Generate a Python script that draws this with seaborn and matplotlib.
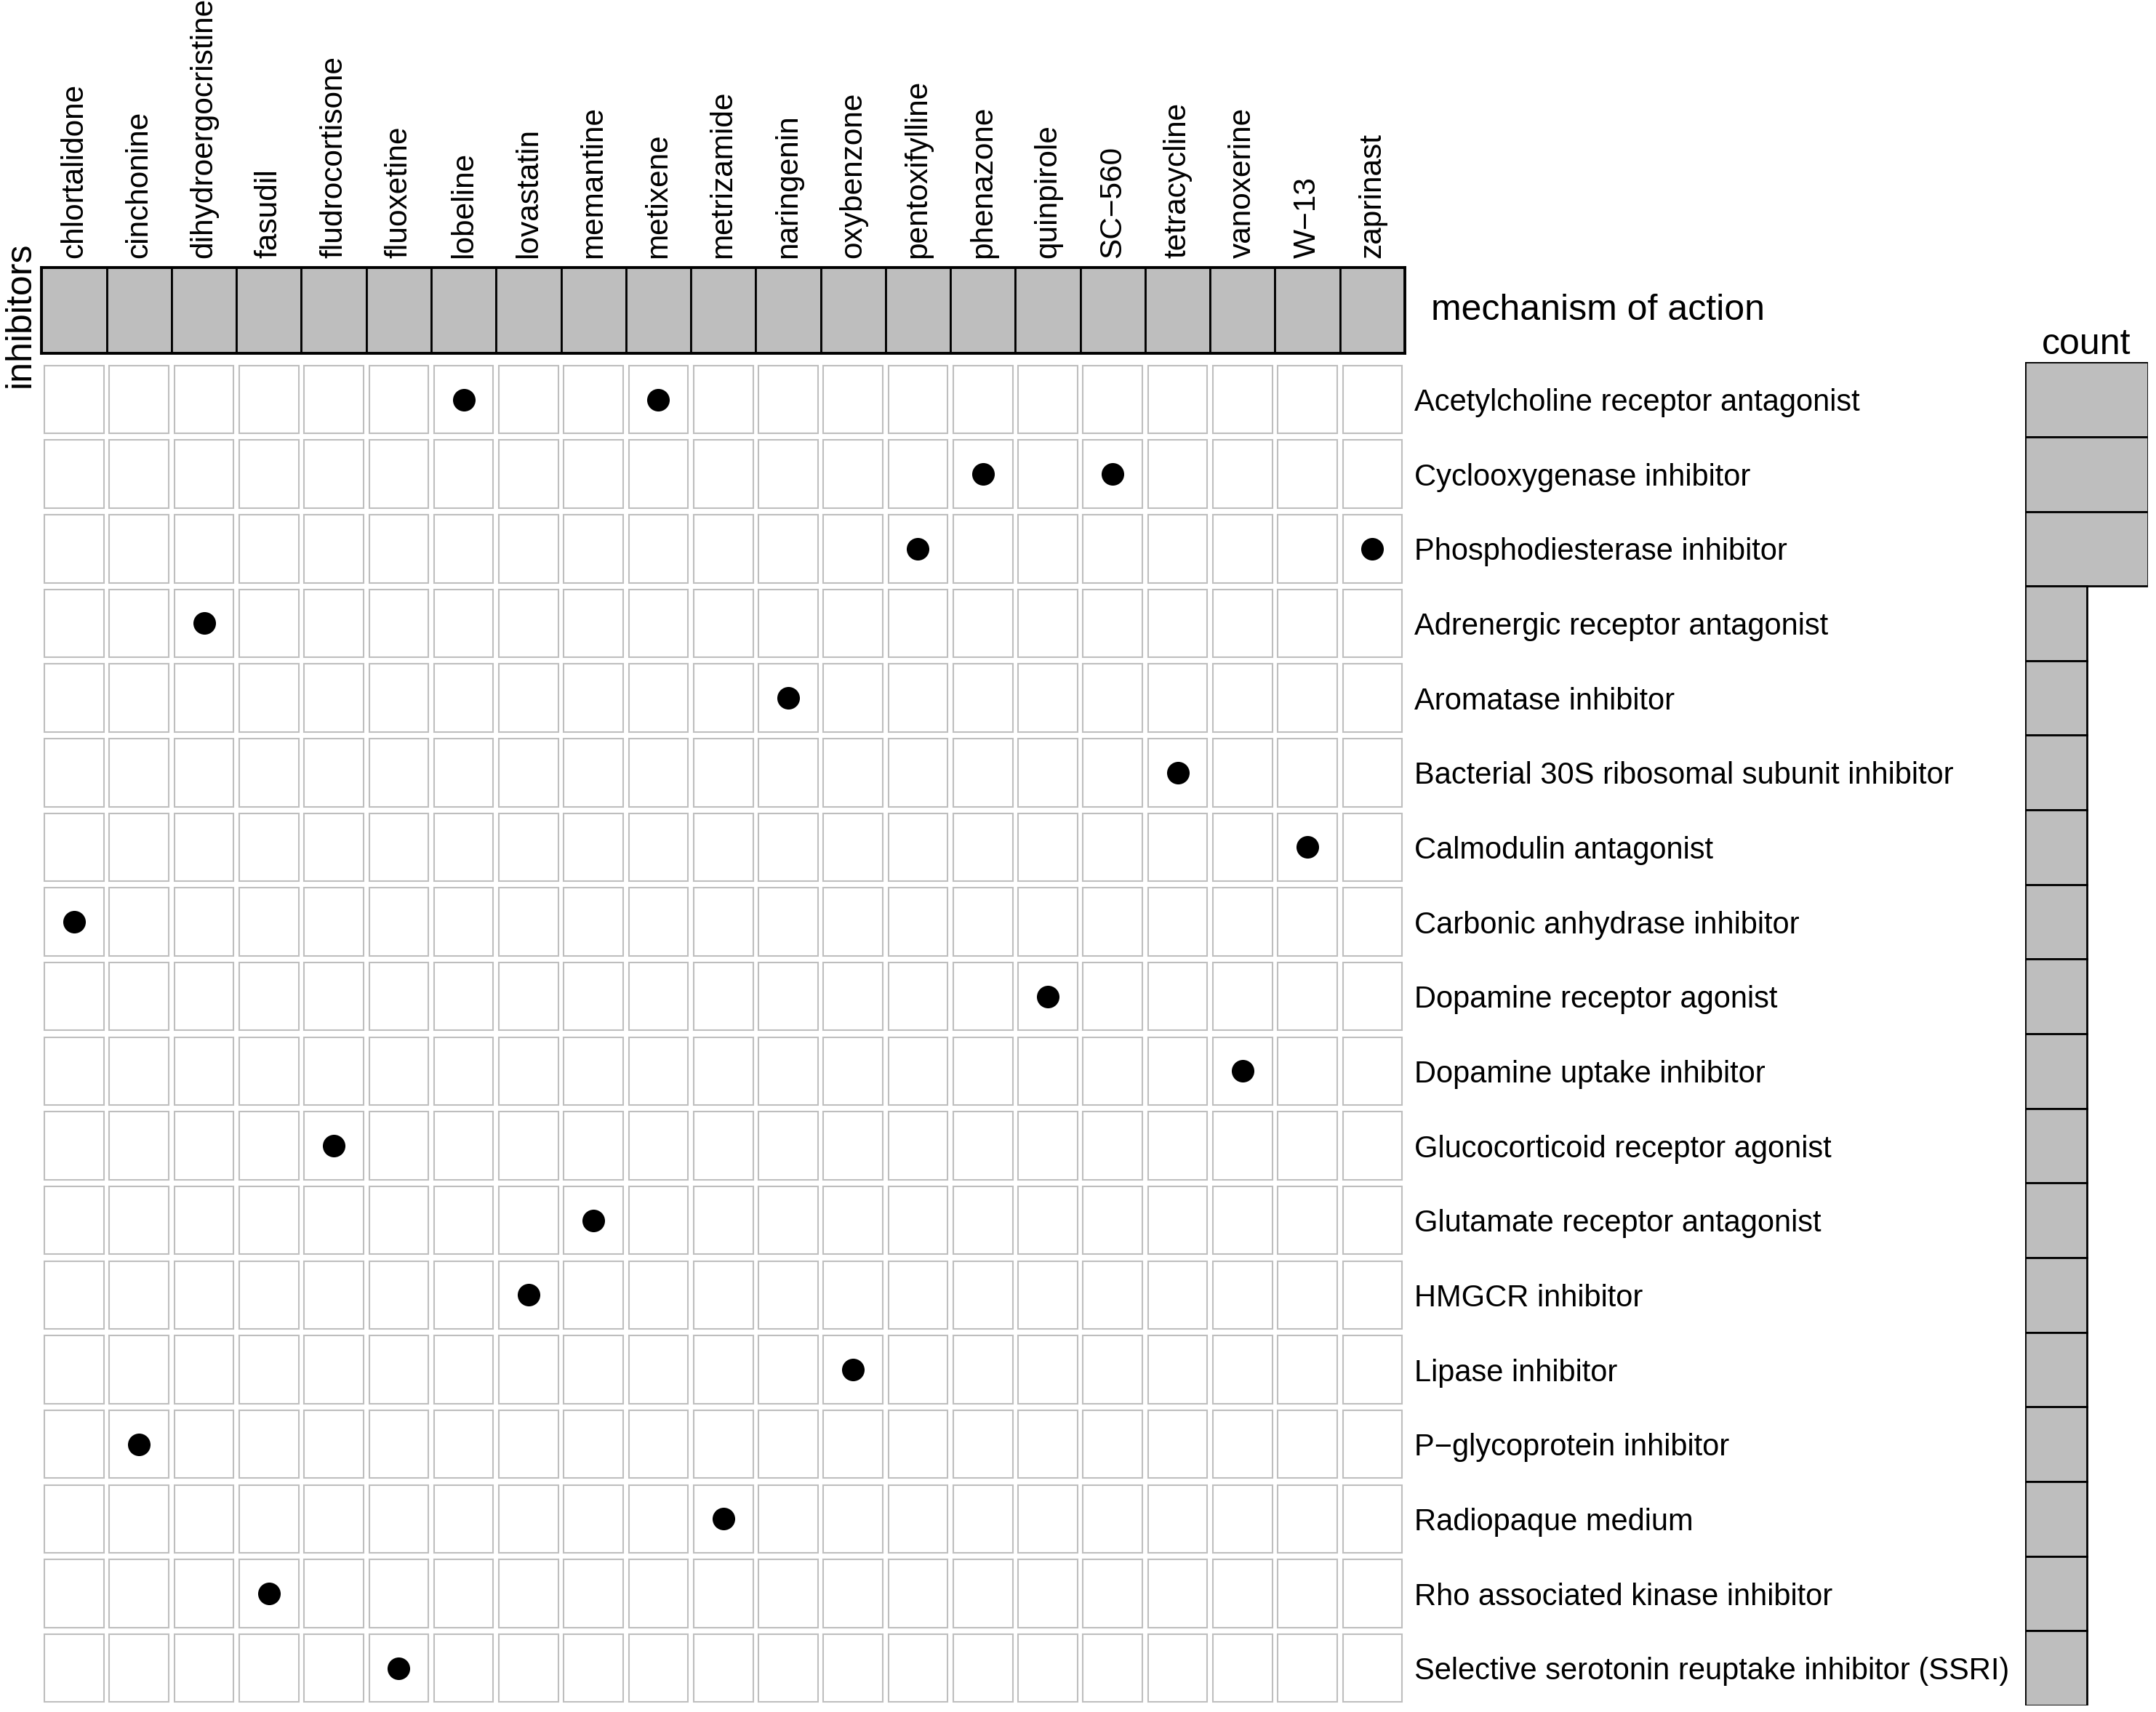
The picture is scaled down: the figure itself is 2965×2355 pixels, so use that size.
import matplotlib
matplotlib.use("Agg")
import matplotlib.pyplot as plt
import numpy as np
import pandas as pd
import seaborn as sns

# inhibitors (columns) and mechanisms of action (rows)
drugs = ['chlortalidone', 'cinchonine', 'dihydroergocristine', 'fasudil', 'fludrocortisone',
         'fluoxetine', 'lobeline', 'lovastatin', 'memantine', 'metixene', 'metrizamide',
         'naringenin', 'oxybenzone', 'pentoxifylline', 'phenazone', 'quinpirole',
         'SC\u2212560', 'tetracycline', 'vanoxerine', 'W\u221213', 'zaprinast']
moas = ['Acetylcholine receptor antagonist', 'Cyclooxygenase inhibitor',
        'Phosphodiesterase inhibitor', 'Adrenergic receptor antagonist',
        'Aromatase inhibitor', 'Bacterial 30S ribosomal subunit inhibitor',
        'Calmodulin antagonist', 'Carbonic anhydrase inhibitor',
        'Dopamine receptor agonist', 'Dopamine uptake inhibitor',
        'Glucocorticoid receptor agonist', 'Glutamate receptor antagonist',
        'HMGCR inhibitor', 'Lipase inhibitor', 'P\u2212glycoprotein inhibitor',
        'Radiopaque medium', 'Rho associated kinase inhibitor',
        'Selective serotonin reuptake inhibitor (SSRI)']

# which inhibitor has which mechanism
pair_moa = ['Acetylcholine receptor antagonist', 'Acetylcholine receptor antagonist',
            'Cyclooxygenase inhibitor', 'Cyclooxygenase inhibitor',
            'Phosphodiesterase inhibitor', 'Phosphodiesterase inhibitor',
            'Adrenergic receptor antagonist', 'Aromatase inhibitor',
            'Bacterial 30S ribosomal subunit inhibitor', 'Calmodulin antagonist',
            'Carbonic anhydrase inhibitor', 'Dopamine receptor agonist',
            'Dopamine uptake inhibitor', 'Glucocorticoid receptor agonist',
            'Glutamate receptor antagonist', 'HMGCR inhibitor', 'Lipase inhibitor',
            'P\u2212glycoprotein inhibitor', 'Radiopaque medium',
            'Rho associated kinase inhibitor',
            'Selective serotonin reuptake inhibitor (SSRI)']
pair_drug = ['lobeline', 'metixene', 'phenazone', 'SC\u2212560', 'pentoxifylline',
             'zaprinast', 'dihydroergocristine', 'naringenin', 'tetracycline',
             'W\u221213', 'chlortalidone', 'quinpirole', 'vanoxerine',
             'fludrocortisone', 'memantine', 'lovastatin', 'oxybenzone',
             'cinchonine', 'metrizamide', 'fasudil', 'fluoxetine']

sns.set_style('white')
plt.rcParams['font.family'] = ['Liberation Sans', 'DejaVu Sans']
plt.rcParams['text.color'] = 'black'
plt.rcParams['xtick.color'] = 'black'
plt.rcParams['ytick.color'] = 'black'
plt.rcParams['axes.labelcolor'] = 'black'

pairs = pd.DataFrame({'moa': pair_moa, 'drug': pair_drug})
pairs['col'] = pairs['drug'].map({d: i for i, d in enumerate(drugs)})
pairs['row'] = pairs['moa'].map({m: i for i, m in enumerate(moas)})
counts = pairs.groupby('moa').size().reindex(moas)

W, H = 2965, 2355
fig = plt.figure(figsize=(W / 100, H / 100), dpi=100)

def box(x0, x1, y0, y1):
    return [x0 / W, 1 - y1 / H, (x1 - x0) / W, (y1 - y0) / H]

gris = '#bebebe'

# main matrix
ax = fig.add_axes(box(57.4, 1932, 498.2, 2346))
for j in range(len(moas)):
    ax.bar(np.arange(len(drugs)), 0.91, bottom=j - 0.455, width=0.915,
           color='white', edgecolor=gris, linewidth=1.5)
sns.scatterplot(data=pairs, x='col', y='row', s=500, color='black',
                linewidth=0, ax=ax, legend=False)
ax.set_xlim(-0.5, len(drugs) - 0.5)
ax.set_ylim(len(moas) - 0.5, -0.5)
ax.yaxis.tick_right()
ax.set_yticks(range(len(moas)))
ax.set_yticklabels(moas)
ax.set_xticks([])
ax.tick_params(axis='y', length=0, pad=9.4, labelsize=30, labelcolor='black')
ax.set_xlabel('')
ax.set_ylabel('')
for s in ax.spines.values():
    s.set_visible(False)

# header band
ax_h = fig.add_axes(box(57.4, 1932, 368, 486))
ax_h.bar(np.arange(len(drugs)), 1, width=1, color=gris, edgecolor='black', linewidth=2)
ax_h.set_xlim(-0.5, len(drugs) - 0.5)
ax_h.set_ylim(0, 1)
ax_h.xaxis.tick_top()
ax_h.set_xticks(range(len(drugs)))
ax_h.set_xticklabels(drugs, rotation=90)
ax_h.set_yticks([])
ax_h.tick_params(axis='x', length=0, pad=9.4, labelsize=30.5, labelcolor='black')
for s in ax_h.spines.values():
    s.set_visible(True)
    s.set_color('black')
    s.set_linewidth(2.8)
ax_h.text(1.0192, 0.5, 'mechanism of action', transform=ax_h.transAxes,
          ha='left', va='center', fontsize=36, color='black')

# count bars
ax_c = fig.add_axes(box(2785, 2954, 498.2, 2346))
sns.barplot(x=counts.values, y=moas, orient='h', width=1, color=gris, saturation=1,
            edgecolor='black', linewidth=2, ax=ax_c)
ax_c.set_xlim(0, 2)
ax_c.set_ylim(len(moas) - 0.5, -0.5)
ax_c.set_xticks([])
ax_c.set_yticks([])
ax_c.set_xlabel('')
ax_c.set_ylabel('')
for s in ax_c.spines.values():
    s.set_visible(False)
ax_c.set_title('count', fontsize=36, pad=8, color='black')

fig.text(28 / W, 1 - 533 / H, 'inhibitors', rotation=90, ha='center', va='bottom',
         fontsize=36, color='black')

fig.savefig('out.png', dpi=100)
